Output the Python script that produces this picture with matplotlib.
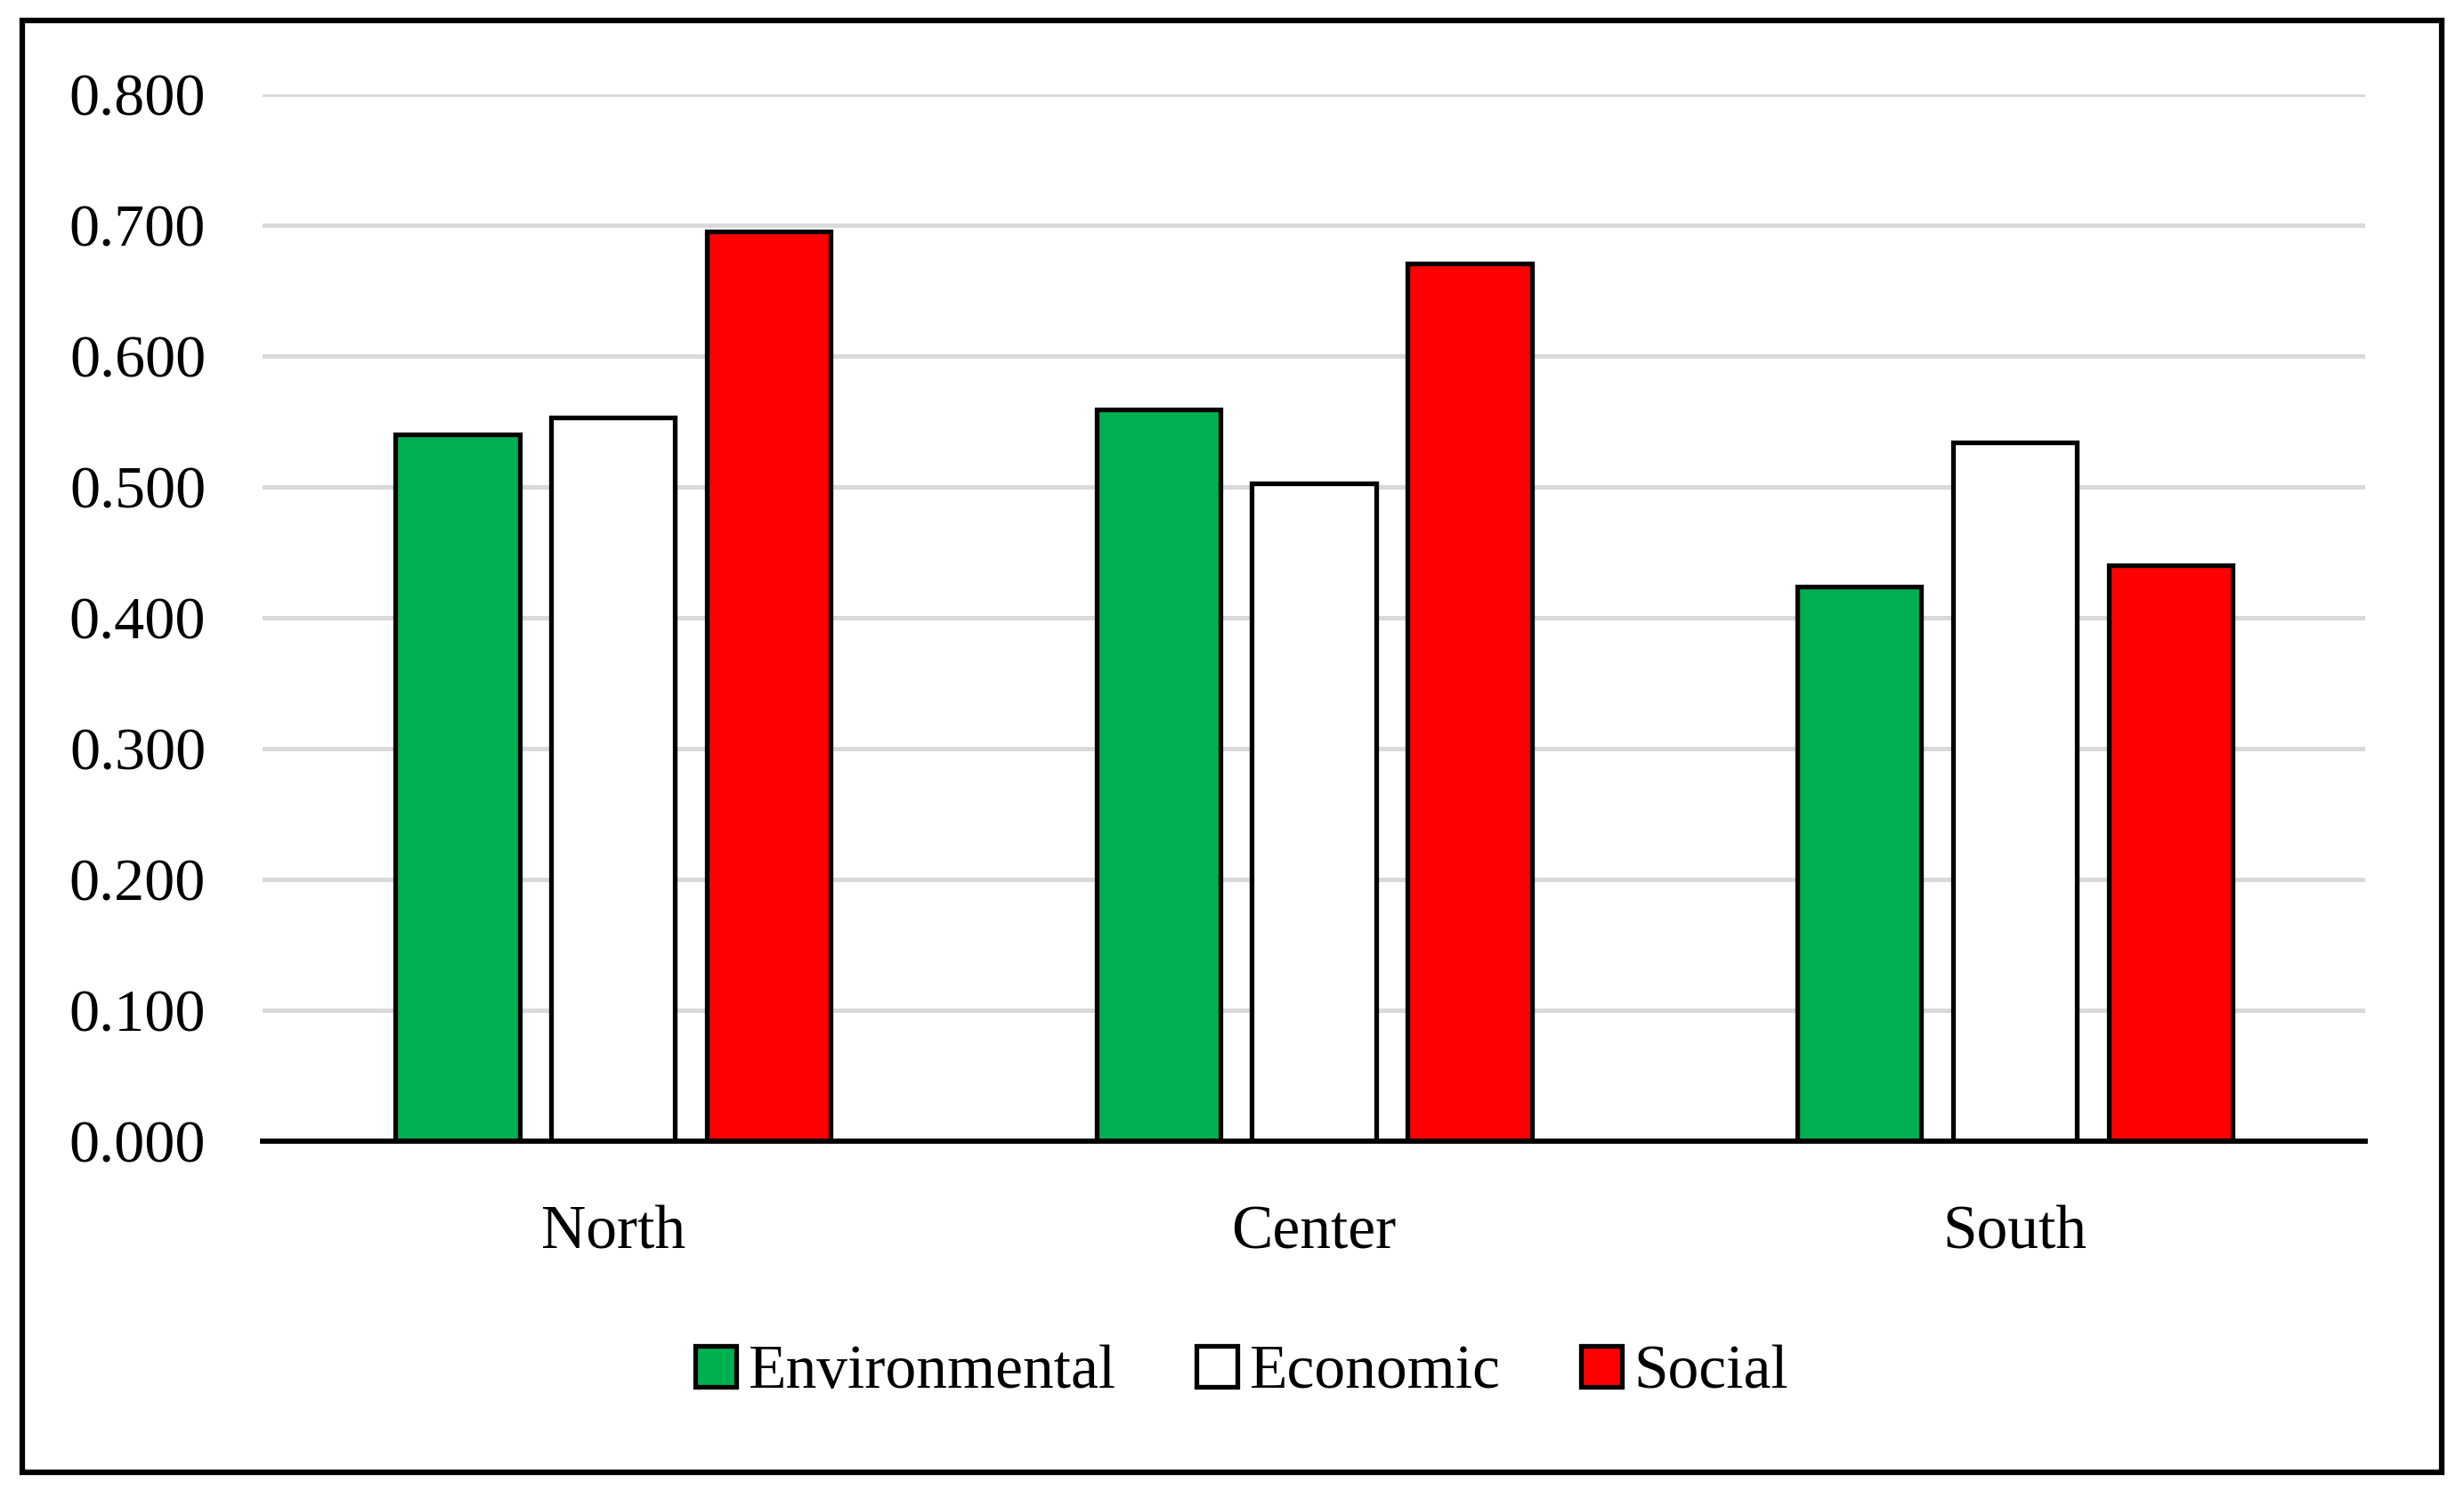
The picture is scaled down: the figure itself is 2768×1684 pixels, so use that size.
import matplotlib
matplotlib.use('Agg')
import matplotlib.pyplot as plt
from matplotlib.patches import Rectangle
import numpy as np

# data
regions = ['North', 'Center', 'South']
environmental = [0.540, 0.559, 0.424]
economic = [0.553, 0.503, 0.534]
social = [0.695, 0.671, 0.440]
yticks = [0.0, 0.1, 0.2, 0.3, 0.4, 0.5, 0.6, 0.7, 0.8]

plt.rcParams['font.family'] = ['Liberation Serif', 'DejaVu Serif']

fig = plt.figure(figsize=(27.68, 16.84), dpi=100)
ax = fig.add_axes([0.1066, 0.2387, 0.8534, 0.6983])

x = np.arange(len(regions))
w = 0.177
step = 0.222
series = [('Environmental', environmental, '#00b050'),
          ('Economic', economic, '#ffffff'),
          ('Social', social, '#ff0000')]
for i, (name, vals, col) in enumerate(series):
    ax.bar(x + (i - 1) * step, vals, w, color=col, edgecolor='black',
           linewidth=3.8, label=name, zorder=3)

ax.set_xlim(-0.5, 2.5)
ax.set_ylim(0, 0.8)
ax.set_yticks(yticks)
ax.set_yticklabels([f'{v:.3f}' for v in yticks])
ax.set_xticks(x)
ax.set_xticklabels(regions)
ax.tick_params(axis='y', length=0, labelsize=49, pad=46)
ax.tick_params(axis='x', length=0, labelsize=50, pad=52)
ax.grid(axis='y', color='#d9d9d9', linewidth=3.6, zorder=0)
for s in ['top', 'right', 'left']:
    ax.spines[s].set_visible(False)
ax.spines['bottom'].set_linewidth(4.2)
ax.spines['bottom'].set_zorder(4)

fig.legend(loc='center', bbox_to_anchor=(0.504, 0.084), ncol=3, frameon=False,
           fontsize=50, handlelength=0.66, handleheight=0.66, handletextpad=0.2,
           columnspacing=1.3)

fig.patches.append(Rectangle((25 / 2768, 1 - 1654 / 1684), 2718 / 2768, 1631 / 1684,
                             transform=fig.transFigure, fill=False,
                             edgecolor='black', linewidth=4.5))

fig.savefig('out.png', dpi=100)
